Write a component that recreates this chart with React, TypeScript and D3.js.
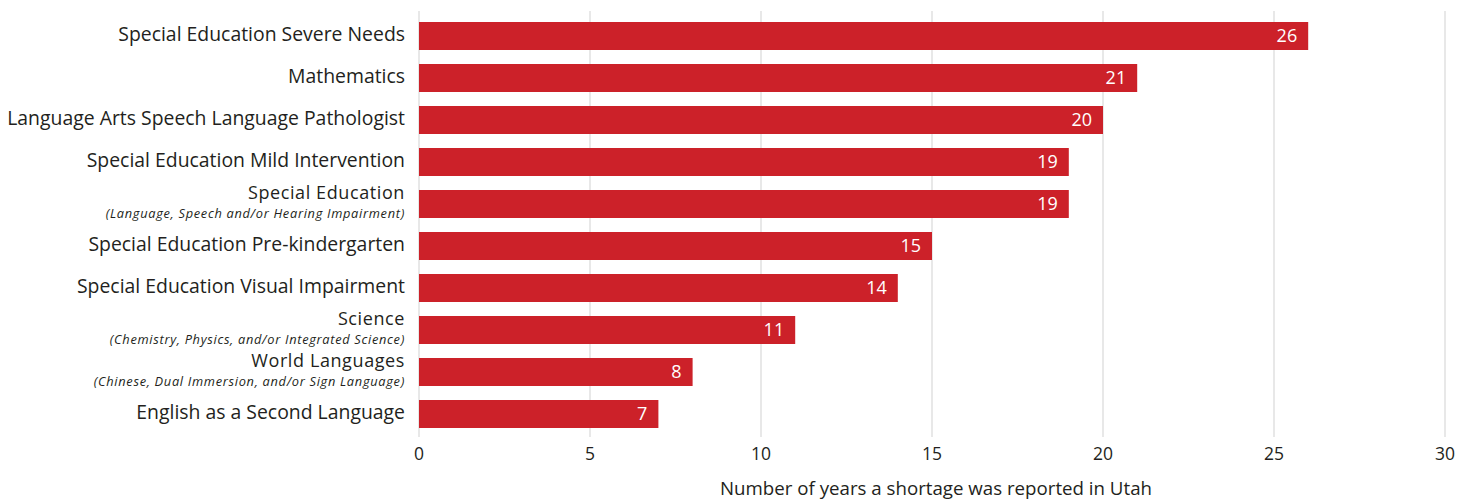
import React from "react";
import * as d3 from "d3";

const categories = [
  "Special Education Severe Needs",
  "Mathematics",
  "Language Arts Speech Language Pathologist",
  "Special Education Mild Intervention",
  "Special Education",
  "Special Education Pre-kindergarten",
  "Special Education Visual Impairment",
  "Science",
  "World Languages",
  "English as a Second Language",
];
const subtitles = [
  "",
  "",
  "",
  "",
  "(Language, Speech and/or Hearing Impairment)",
  "",
  "",
  "(Chemistry, Physics, and/or Integrated Science)",
  "(Chinese, Dual Immersion, and/or Sign Language)",
  "",
];
const values = [26, 21, 20, 19, 19, 15, 14, 11, 8, 7];
const xTicks = [0, 5, 10, 15, 20, 25, 30];
const xTitle = "Number of years a shortage was reported in Utah";

const W = 1474;
const H = 501;
const FONT = "'Open Sans', sans-serif";
const TXT = "#231f20";

export default function App() {
  const x = d3.scaleLinear().domain([0, 30]).range([419, 1445]);
  const y = d3
    .scaleBand<number>()
    .domain(d3.range(categories.length))
    .range([15, 435])
    .paddingInner(1 / 3)
    .paddingOuter(1 / 6);
  const bw = y.bandwidth();

  return (
    <svg
      width={W}
      height={H}
      style={{ position: "absolute", left: 0, top: 0, background: "#fff" }}
      fontFamily={FONT}
    >
      {xTicks.map((t) => (
        <line
          key={"g" + t}
          x1={x(t)}
          x2={x(t)}
          y1={11}
          y2={437}
          stroke="#e0e0e0"
          strokeWidth={1.5}
        />
      ))}
      {values.map((v, i) => {
        const y0 = y(i)!;
        const cy = y0 + bw / 2;
        return (
          <g key={i}>
            <rect x={x(0)} y={y0} width={x(v) - x(0)} height={bw} fill="#cc2129" />
            <text
              x={x(v) - 11}
              y={cy + 6}
              textAnchor="end"
              fill="#fff"
              fontSize={18}
            >
              {v}
            </text>
            {subtitles[i] ? (
              <>
                <text
                  x={405}
                  y={cy - 5}
                  textAnchor="end"
                  fill={TXT}
                  fontSize={18}
                  letterSpacing={0.6}
                >
                  {categories[i]}
                </text>
                <text
                  x={405}
                  y={cy + 14}
                  textAnchor="end"
                  fill={TXT}
                  fontSize={12.8}
                  letterSpacing={0.7}
                  fontStyle="italic"
                >
                  {subtitles[i]}
                </text>
              </>
            ) : (
              <text x={405} y={cy + 5} textAnchor="end" fill={TXT} fontSize={19.4}>
                {categories[i]}
              </text>
            )}
          </g>
        );
      })}
      {xTicks.map((t) => (
        <text
          key={"t" + t}
          x={x(t)}
          y={460}
          textAnchor="middle"
          fill={TXT}
          fontSize={17.5}
        >
          {t}
        </text>
      ))}
      <text
        x={(x(0) + x(30)) / 2 + 4}
        y={495}
        textAnchor="middle"
        fill={TXT}
        fontSize={18.7}
      >
        {xTitle}
      </text>
    </svg>
  );
}
